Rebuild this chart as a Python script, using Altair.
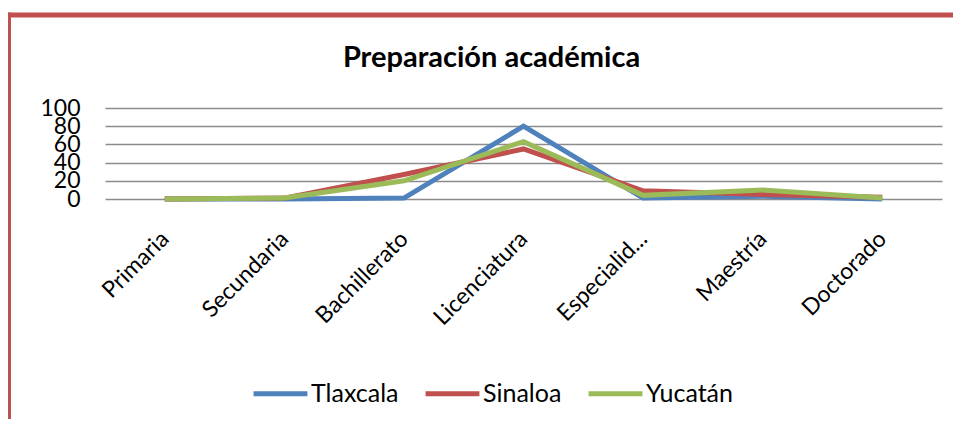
import altair as alt
import pandas as pd

categories = ["Primaria", "Secundaria", "Bachillerato", "Licenciatura", "Especialid...", "Maestría", "Doctorado"]
series_names = ["Tlaxcala", "Sinaloa", "Yucatán"]
tlaxcala = [0, 0, 1, 80, 1, 3, 0]
sinaloa = [0, 1, 27, 55, 9, 5, 2]
yucatan = [0, 1, 20, 63, 4, 10, 1]
colors = ["#4F81BD", "#C0504D", "#9BBB59"]
y_ticks = [0, 20, 40, 60, 80, 100]

rows = []
for name, vals in zip(series_names, [tlaxcala, sinaloa, yucatan]):
    for i, (c, v) in enumerate(zip(categories, vals)):
        rows.append({"Nivel": c, "Estado": name, "Valor": v, "idx": i})
df = pd.DataFrame(rows)

FONT = "Lato"

lines = alt.Chart(df).mark_line(strokeWidth=5, strokeJoin="miter").encode(
    x=alt.X("Nivel:N", sort=categories, title=None,
            scale=alt.Scale(paddingInner=0, paddingOuter=0.5),
            axis=alt.Axis(labelAngle=-45, labelAlign="right", labelBaseline="middle",
                          labelPadding=36, labelFontSize=23, labelFont=FONT,
                          labelColor="black", domain=False, ticks=False, grid=False,
                          labelOverlap=False)),
    y=alt.Y("Valor:Q", title=None, scale=alt.Scale(domain=[0, 100]),
            axis=alt.Axis(values=y_ticks, labelFontSize=23, labelFont=FONT, labelColor="black",
                          labelPadding=25, domain=False, ticks=False, gridColor="#8c8c8c",
                          gridWidth=1.5, labelOverlap=False)),
    color=alt.Color("Estado:N", sort=series_names,
                    scale=alt.Scale(domain=series_names, range=colors),
                    legend=alt.Legend(title=None, orient="none", direction="horizontal",
                                      legendX=146, legendY=256, symbolType="stroke",
                                      symbolSize=2900, symbolStrokeWidth=5,
                                      labelFontSize=25, labelFont=FONT, labelColor="black",
                                      labelOffset=1, columnPadding=16, padding=0)),
    order=alt.Order("idx:Q"),
)

frame_top = alt.Chart(pd.DataFrame({"a": [0]})).mark_rule(color="#C0504D", strokeWidth=5).encode(
    x=alt.value(-99), x2=alt.value(860), y=alt.value(-93)
)
frame_left = alt.Chart(pd.DataFrame({"a": [0]})).mark_rule(color="#C0504D", strokeWidth=5).encode(
    x=alt.value(-96.5), y=alt.value(-95.5), y2=alt.value(320)
)

chart = alt.layer(frame_top, frame_left, lines).properties(
    width=837, height=91,
    title=alt.TitleParams("Preparación académica", fontSize=29, font=FONT, fontWeight="bold",
                          color="black", anchor="middle", frame="group", dx=-32, offset=-63),
    autosize=alt.AutoSizeParams(type="none"),
    padding={"left": 97, "top": 100, "right": 11, "bottom": 220},
).configure_view(stroke=None)

chart.save("out.html", embed_options={"renderer": "svg", "actions": False})
